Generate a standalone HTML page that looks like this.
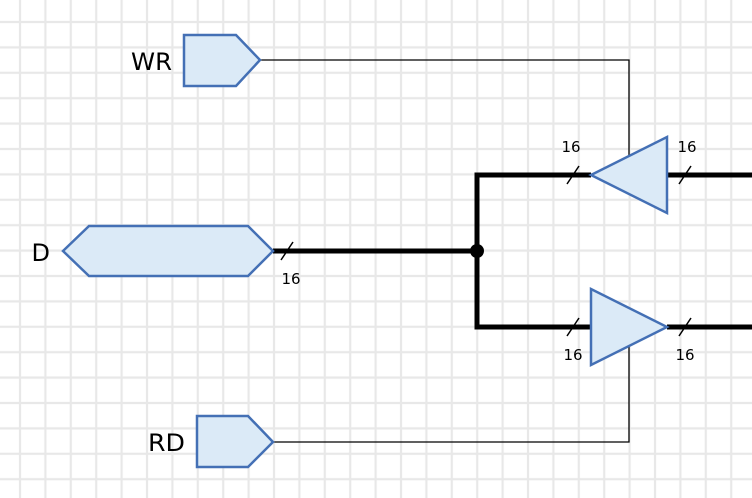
<!DOCTYPE html>
<html><head><meta charset="utf-8"><style>
html,body{margin:0;padding:0;background:#fff;}
svg{display:block;}
</style></head><body>
<svg width="752" height="498" viewBox="0 0 752 498" xmlns="http://www.w3.org/2000/svg">
<defs>
<pattern id="g" x="18.5" y="20.5" width="25.4" height="25.4" patternUnits="userSpaceOnUse">
<path d="M1.5 0V25.4M0 1.5H25.4" stroke="#e8e8e8" stroke-width="2.2" fill="none"/>
</pattern>
</defs>
<rect x="0" y="0" width="752" height="498" fill="url(#g)"/>
<g stroke="#000" stroke-width="1.3" fill="none">
<polyline points="260,60 629,60 629,156"/>
<polyline points="273,442 629,442 629,346"/>
</g>
<g stroke="#000" stroke-width="5" fill="none">
<line x1="273" y1="251" x2="477" y2="251"/>
<line x1="477" y1="172.5" x2="477" y2="329.5"/>
<line x1="475" y1="175" x2="591" y2="175"/>
<line x1="667" y1="175" x2="752" y2="175"/>
<line x1="475" y1="327" x2="591" y2="327"/>
<line x1="667" y1="327" x2="752" y2="327"/>
</g>
<circle cx="477" cy="251" r="7" fill="#000"/>
<g stroke="#000" stroke-width="1.5">
<line x1="281" y1="260" x2="293" y2="242"/>
<line x1="567" y1="184" x2="579" y2="166"/>
<line x1="679" y1="184" x2="691" y2="166"/>
<line x1="567" y1="336" x2="579" y2="318"/>
<line x1="679" y1="336" x2="691" y2="318"/>
</g>
<g fill="#dbeaf7" stroke="#4470b5" stroke-width="2.5" stroke-linejoin="miter">
<polygon points="184,35 236,35 260,60 236,86 184,86"/>
<polygon points="63,251 89,226 248,226 273,251 248,276 89,276"/>
<polygon points="197,416 248,416 273,442 248,467 197,467"/>
<polygon points="591,175 667,137 667,213"/>
<polygon points="591,289 591,365 667,327"/>
</g>
<g font-family="'DejaVu Sans', 'Liberation Sans', sans-serif" fill="#000">
<text x="172" y="70" font-size="24" text-anchor="end" textLength="41" lengthAdjust="spacingAndGlyphs">WR</text>
<text x="50" y="261" font-size="24" text-anchor="end">D</text>
<text x="185" y="451" font-size="24" text-anchor="end" textLength="37" lengthAdjust="spacingAndGlyphs">RD</text>
<g font-size="15" text-anchor="middle">
<text x="291" y="284">16</text>
<text x="571" y="152">16</text>
<text x="687" y="152">16</text>
<text x="573" y="360">16</text>
<text x="685" y="360">16</text>
</g>
</g>
</svg>
</body></html>
